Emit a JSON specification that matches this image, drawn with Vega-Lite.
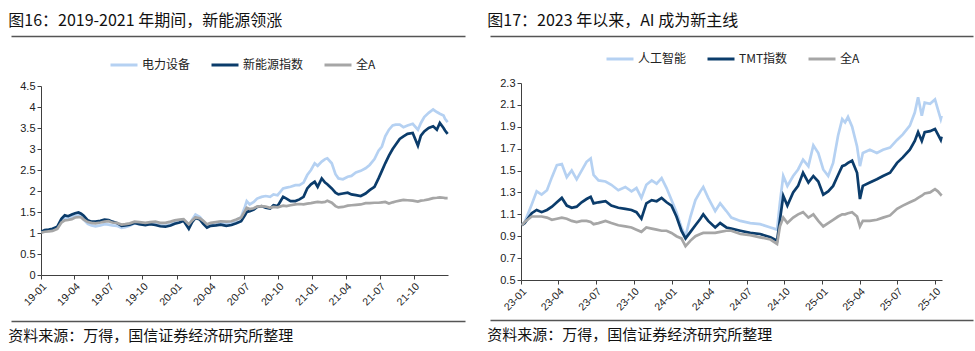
{
  "$schema": "https://vega.github.io/schema/vega-lite/v6.json",
  "padding": {"left": 8, "top": 12, "right": 0, "bottom": 0},
  "background": "white",
  "config": {
    "font": "Noto Sans CJK SC",
    "view": {"stroke": null},
    "axis": {"labelFont": "Liberation Sans", "labelFontSize": 11, "labelColor": "#222222", "domainColor": "#404040", "tickColor": "#404040", "tickSize": 4, "grid": false, "title": null},
    "legend": {"labelFont": "Noto Sans CJK SC", "labelFontSize": 12, "labelColor": "#222222"}
  },
  "datasets": {
    "left": [
      {"d":"2019-01-02","电力设备":1.02,"新能源指数":1.03,"全A":1.01},
      {"d":"2019-01-11","电力设备":1.05,"新能源指数":1.07,"全A":1.03},
      {"d":"2019-01-22","电力设备":1.06,"新能源指数":1.08,"全A":1.04},
      {"d":"2019-02-01","电力设备":1.08,"新能源指数":1.10,"全A":1.05},
      {"d":"2019-02-14","电力设备":1.14,"新能源指数":1.15,"全A":1.10},
      {"d":"2019-02-25","电力设备":1.30,"新能源指数":1.34,"全A":1.25},
      {"d":"2019-03-06","电力设备":1.36,"新能源指数":1.42,"全A":1.30},
      {"d":"2019-03-15","电力设备":1.34,"新能源指数":1.40,"全A":1.31},
      {"d":"2019-03-25","电力设备":1.38,"新能源指数":1.44,"全A":1.33},
      {"d":"2019-04-03","电力设备":1.41,"新能源指数":1.47,"全A":1.37},
      {"d":"2019-04-12","电力设备":1.42,"新能源指数":1.49,"全A":1.38},
      {"d":"2019-04-19","电力设备":1.40,"新能源指数":1.46,"全A":1.37},
      {"d":"2019-04-26","电力设备":1.32,"新能源指数":1.41,"全A":1.32},
      {"d":"2019-05-07","电力设备":1.22,"新能源指数":1.30,"全A":1.26},
      {"d":"2019-05-17","电力设备":1.18,"新能源指数":1.27,"全A":1.24},
      {"d":"2019-05-28","电力设备":1.16,"新能源指数":1.27,"全A":1.23},
      {"d":"2019-06-10","电力设备":1.18,"新能源指数":1.29,"全A":1.25},
      {"d":"2019-06-21","电力设备":1.21,"新能源指数":1.32,"全A":1.27},
      {"d":"2019-07-02","电力设备":1.20,"新能源指数":1.31,"全A":1.28},
      {"d":"2019-07-12","电力设备":1.18,"新能源指数":1.27,"全A":1.25},
      {"d":"2019-07-24","电力设备":1.17,"新能源指数":1.24,"全A":1.24},
      {"d":"2019-08-06","电力设备":1.12,"新能源指数":1.17,"全A":1.20},
      {"d":"2019-08-16","电力设备":1.14,"新能源指数":1.18,"全A":1.21},
      {"d":"2019-08-28","电力设备":1.17,"新能源指数":1.20,"全A":1.23},
      {"d":"2019-09-10","电力设备":1.23,"新能源指数":1.24,"全A":1.27},
      {"d":"2019-09-23","电力设备":1.21,"新能源指数":1.21,"全A":1.26},
      {"d":"2019-10-09","电力设备":1.20,"新能源指数":1.19,"全A":1.24},
      {"d":"2019-10-22","电力设备":1.22,"新能源指数":1.21,"全A":1.26},
      {"d":"2019-11-05","电力设备":1.22,"新能源指数":1.19,"全A":1.27},
      {"d":"2019-11-18","电力设备":1.18,"新能源指数":1.16,"全A":1.24},
      {"d":"2019-12-02","电力设备":1.17,"新能源指数":1.15,"全A":1.24},
      {"d":"2019-12-16","电力设备":1.21,"新能源指数":1.18,"全A":1.27},
      {"d":"2019-12-27","电力设备":1.25,"新能源指数":1.22,"全A":1.30},
      {"d":"2020-01-09","电力设备":1.28,"新能源指数":1.25,"全A":1.32},
      {"d":"2020-01-20","电力设备":1.31,"新能源指数":1.29,"全A":1.33},
      {"d":"2020-02-03","电力设备":1.14,"新能源指数":1.10,"全A":1.21},
      {"d":"2020-02-12","电力设备":1.32,"新能源指数":1.26,"全A":1.30},
      {"d":"2020-02-21","电力设备":1.44,"新能源指数":1.36,"全A":1.37},
      {"d":"2020-03-04","电力设备":1.38,"新能源指数":1.32,"全A":1.35},
      {"d":"2020-03-13","电力设备":1.28,"新能源指数":1.22,"全A":1.29},
      {"d":"2020-03-23","电力设备":1.17,"新能源指数":1.13,"全A":1.21},
      {"d":"2020-04-02","电力设备":1.21,"新能源指数":1.17,"全A":1.24},
      {"d":"2020-04-16","电力设备":1.23,"新能源指数":1.18,"全A":1.26},
      {"d":"2020-04-29","电力设备":1.25,"新能源指数":1.20,"全A":1.28},
      {"d":"2020-05-14","电力设备":1.23,"新能源指数":1.17,"全A":1.27},
      {"d":"2020-05-28","电力设备":1.25,"新能源指数":1.19,"全A":1.28},
      {"d":"2020-06-10","电力设备":1.31,"新能源指数":1.23,"全A":1.32},
      {"d":"2020-06-23","电力设备":1.38,"新能源指数":1.28,"全A":1.37},
      {"d":"2020-07-03","电力设备":1.62,"新能源指数":1.42,"全A":1.52},
      {"d":"2020-07-08","电力设备":1.76,"新能源指数":1.50,"全A":1.60},
      {"d":"2020-07-16","电力设备":1.68,"新能源指数":1.52,"全A":1.57},
      {"d":"2020-07-27","电力设备":1.74,"新能源指数":1.56,"全A":1.59},
      {"d":"2020-08-05","电力设备":1.82,"新能源指数":1.62,"全A":1.63},
      {"d":"2020-08-17","电力设备":1.86,"新能源指数":1.64,"全A":1.64},
      {"d":"2020-08-28","电力设备":1.88,"新能源指数":1.60,"全A":1.63},
      {"d":"2020-09-09","电力设备":1.86,"新能源指数":1.58,"全A":1.60},
      {"d":"2020-09-18","电力设备":1.92,"新能源指数":1.66,"全A":1.62},
      {"d":"2020-09-29","电力设备":1.90,"新能源指数":1.64,"全A":1.61},
      {"d":"2020-10-14","电力设备":2.06,"新能源指数":1.86,"全A":1.65},
      {"d":"2020-10-23","电力设备":2.08,"新能源指数":1.82,"全A":1.64},
      {"d":"2020-11-03","电力设备":2.10,"新能源指数":1.76,"全A":1.66},
      {"d":"2020-11-16","电力设备":2.14,"新能源指数":1.76,"全A":1.68},
      {"d":"2020-11-27","电力设备":2.14,"新能源指数":1.80,"全A":1.69},
      {"d":"2020-12-08","电力设备":2.20,"新能源指数":1.86,"全A":1.68},
      {"d":"2020-12-18","电力设备":2.38,"新能源指数":2.06,"全A":1.70},
      {"d":"2020-12-28","电力设备":2.50,"新能源指数":2.16,"全A":1.71},
      {"d":"2021-01-07","电力设备":2.66,"新能源指数":2.22,"全A":1.73},
      {"d":"2021-01-15","电力设备":2.60,"新能源指数":2.10,"全A":1.74},
      {"d":"2021-01-26","电力设备":2.70,"新能源指数":2.30,"全A":1.73},
      {"d":"2021-02-04","电力设备":2.76,"新能源指数":2.20,"全A":1.74},
      {"d":"2021-02-10","电力设备":2.78,"新能源指数":2.16,"全A":1.77},
      {"d":"2021-02-22","电力设备":2.66,"新能源指数":2.06,"全A":1.72},
      {"d":"2021-03-04","电力设备":2.40,"新能源指数":1.96,"全A":1.64},
      {"d":"2021-03-12","电力设备":2.30,"新能源指数":1.92,"全A":1.61},
      {"d":"2021-03-24","电力设备":2.28,"新能源指数":1.94,"全A":1.62},
      {"d":"2021-04-06","电力设备":2.34,"新能源指数":1.96,"全A":1.65},
      {"d":"2021-04-16","电力设备":2.36,"新能源指数":1.92,"全A":1.66},
      {"d":"2021-04-28","电力设备":2.44,"新能源指数":1.90,"全A":1.67},
      {"d":"2021-05-11","电力设备":2.48,"新能源指数":1.88,"全A":1.68},
      {"d":"2021-05-24","电力设备":2.54,"新能源指数":1.94,"全A":1.71},
      {"d":"2021-06-04","电力设备":2.62,"新能源指数":2.02,"全A":1.71},
      {"d":"2021-06-17","电力设备":2.76,"新能源指数":2.10,"全A":1.72},
      {"d":"2021-06-28","电力设备":2.96,"新能源指数":2.30,"全A":1.72},
      {"d":"2021-07-07","电力设备":3.06,"新能源指数":2.48,"全A":1.73},
      {"d":"2021-07-16","电力设备":3.30,"新能源指数":2.66,"全A":1.74},
      {"d":"2021-07-26","电力设备":3.46,"新能源指数":2.84,"全A":1.70},
      {"d":"2021-08-05","电力设备":3.56,"新能源指数":3.00,"全A":1.73},
      {"d":"2021-08-13","电力设备":3.58,"新能源指数":3.10,"全A":1.75},
      {"d":"2021-08-24","电力设备":3.58,"新能源指数":3.24,"全A":1.77},
      {"d":"2021-09-03","电力设备":3.52,"新能源指数":3.30,"全A":1.79},
      {"d":"2021-09-14","电力设备":3.56,"新能源指数":3.36,"全A":1.78},
      {"d":"2021-09-28","电力设备":3.60,"新能源指数":3.38,"全A":1.77},
      {"d":"2021-10-12","电力设备":3.46,"新能源指数":3.08,"全A":1.75},
      {"d":"2021-10-20","电力设备":3.62,"新能源指数":3.32,"全A":1.77},
      {"d":"2021-10-29","电力设备":3.76,"新能源指数":3.42,"全A":1.78},
      {"d":"2021-11-10","电力设备":3.86,"新能源指数":3.50,"全A":1.80},
      {"d":"2021-11-22","电力设备":3.94,"新能源指数":3.54,"全A":1.83},
      {"d":"2021-12-02","电力设备":3.88,"新能源指数":3.46,"全A":1.84},
      {"d":"2021-12-10","电力设备":3.84,"新能源指数":3.62,"全A":1.85},
      {"d":"2021-12-20","电力设备":3.80,"新能源指数":3.50,"全A":1.84},
      {"d":"2021-12-24","电力设备":3.72,"新能源指数":3.44,"全A":1.83},
      {"d":"2021-12-31","电力设备":3.64,"新能源指数":3.36,"全A":1.83}
    ],
    "right": [
      {"d":"2023-01-03","人工智能":1.00,"TMT指数":1.00,"全A":1.00},
      {"d":"2023-01-10","人工智能":1.03,"TMT指数":1.02,"全A":1.03},
      {"d":"2023-01-27","人工智能":1.19,"TMT指数":1.11,"全A":1.08},
      {"d":"2023-02-08","人工智能":1.31,"TMT指数":1.14,"全A":1.08},
      {"d":"2023-02-20","人工智能":1.28,"TMT指数":1.12,"全A":1.08},
      {"d":"2023-03-05","人工智能":1.32,"TMT指数":1.14,"全A":1.07},
      {"d":"2023-03-17","人工智能":1.44,"TMT指数":1.17,"全A":1.05},
      {"d":"2023-03-29","人工智能":1.55,"TMT指数":1.21,"全A":1.06},
      {"d":"2023-04-10","人工智能":1.56,"TMT指数":1.25,"全A":1.07},
      {"d":"2023-04-22","人工智能":1.44,"TMT指数":1.18,"全A":1.06},
      {"d":"2023-05-04","人工智能":1.50,"TMT指数":1.16,"全A":1.04},
      {"d":"2023-05-16","人工智能":1.42,"TMT指数":1.17,"全A":1.03},
      {"d":"2023-05-28","人工智能":1.50,"TMT指数":1.21,"全A":1.04},
      {"d":"2023-06-09","人工智能":1.58,"TMT指数":1.24,"全A":1.04},
      {"d":"2023-06-19","人工智能":1.61,"TMT指数":1.26,"全A":1.03},
      {"d":"2023-06-26","人工智能":1.46,"TMT指数":1.20,"全A":1.01},
      {"d":"2023-07-08","人工智能":1.41,"TMT指数":1.21,"全A":1.02},
      {"d":"2023-07-25","人工智能":1.40,"TMT指数":1.22,"全A":1.04},
      {"d":"2023-08-08","人工智能":1.37,"TMT指数":1.18,"全A":1.02},
      {"d":"2023-08-25","人工智能":1.32,"TMT指数":1.16,"全A":1.00},
      {"d":"2023-09-11","人工智能":1.35,"TMT指数":1.15,"全A":0.99},
      {"d":"2023-09-26","人工智能":1.31,"TMT指数":1.14,"全A":0.98},
      {"d":"2023-10-08","人工智能":1.34,"TMT指数":1.12,"全A":0.96},
      {"d":"2023-10-20","人工智能":1.25,"TMT指数":1.06,"全A":0.94},
      {"d":"2023-11-01","人工智能":1.37,"TMT指数":1.20,"全A":0.98},
      {"d":"2023-11-14","人工智能":1.41,"TMT指数":1.23,"全A":0.97},
      {"d":"2023-11-26","人工智能":1.38,"TMT指数":1.22,"全A":0.96},
      {"d":"2023-12-08","人工智能":1.43,"TMT指数":1.25,"全A":0.95},
      {"d":"2023-12-20","人工智能":1.34,"TMT指数":1.21,"全A":0.95},
      {"d":"2024-01-01","人工智能":1.23,"TMT指数":1.18,"全A":0.93},
      {"d":"2024-01-13","人工智能":1.12,"TMT指数":1.08,"全A":0.90},
      {"d":"2024-01-25","人工智能":0.98,"TMT指数":0.95,"全A":0.88},
      {"d":"2024-02-04","人工智能":0.90,"TMT指数":0.88,"全A":0.81},
      {"d":"2024-02-16","人工智能":1.08,"TMT指数":0.94,"全A":0.86},
      {"d":"2024-02-28","人工智能":1.23,"TMT指数":1.00,"全A":0.90},
      {"d":"2024-03-11","人工智能":1.31,"TMT指数":1.06,"全A":0.92},
      {"d":"2024-03-18","人工智能":1.35,"TMT指数":1.10,"全A":0.93},
      {"d":"2024-03-30","人工智能":1.25,"TMT指数":1.04,"全A":0.93},
      {"d":"2024-04-16","人工智能":1.13,"TMT指数":0.98,"全A":0.93},
      {"d":"2024-04-28","人工智能":1.20,"TMT指数":1.02,"全A":0.94},
      {"d":"2024-05-13","人工智能":1.13,"TMT指数":0.98,"全A":0.95},
      {"d":"2024-05-25","人工智能":1.07,"TMT指数":0.97,"全A":0.95},
      {"d":"2024-06-16","人工智能":1.04,"TMT指数":0.95,"全A":0.92},
      {"d":"2024-07-10","人工智能":1.02,"TMT指数":0.93,"全A":0.91},
      {"d":"2024-08-03","人工智能":1.01,"TMT指数":0.92,"全A":0.89},
      {"d":"2024-08-28","人工智能":0.98,"TMT指数":0.89,"全A":0.87},
      {"d":"2024-09-13","人工智能":0.96,"TMT指数":0.86,"全A":0.83},
      {"d":"2024-09-20","人工智能":1.21,"TMT指数":1.05,"全A":0.99},
      {"d":"2024-09-28","人工智能":1.45,"TMT指数":1.27,"全A":1.07},
      {"d":"2024-10-08","人工智能":1.36,"TMT指数":1.18,"全A":1.02},
      {"d":"2024-10-22","人工智能":1.45,"TMT指数":1.30,"全A":1.07},
      {"d":"2024-11-03","人工智能":1.51,"TMT指数":1.36,"全A":1.10},
      {"d":"2024-11-15","人工智能":1.60,"TMT指数":1.48,"全A":1.12},
      {"d":"2024-11-28","人工智能":1.54,"TMT指数":1.39,"全A":1.07},
      {"d":"2024-12-10","人工智能":1.73,"TMT指数":1.45,"全A":1.10},
      {"d":"2024-12-22","人工智能":1.66,"TMT指数":1.40,"全A":1.04},
      {"d":"2025-01-03","人工智能":1.51,"TMT指数":1.28,"全A":0.99},
      {"d":"2025-01-15","人工智能":1.45,"TMT指数":1.31,"全A":1.02},
      {"d":"2025-01-27","人工智能":1.57,"TMT指数":1.36,"全A":1.05},
      {"d":"2025-02-08","人工智能":1.82,"TMT指数":1.46,"全A":1.08},
      {"d":"2025-02-18","人工智能":1.97,"TMT指数":1.54,"全A":1.10},
      {"d":"2025-02-25","人工智能":1.94,"TMT指数":1.55,"全A":1.10},
      {"d":"2025-03-04","人工智能":1.99,"TMT指数":1.57,"全A":1.11},
      {"d":"2025-03-14","人工智能":1.90,"TMT指数":1.59,"全A":1.12},
      {"d":"2025-03-26","人工智能":1.72,"TMT指数":1.48,"全A":1.08},
      {"d":"2025-04-02","人工智能":1.54,"TMT指数":1.24,"全A":0.99},
      {"d":"2025-04-09","人工智能":1.66,"TMT指数":1.36,"全A":1.04},
      {"d":"2025-04-26","人工智能":1.69,"TMT指数":1.39,"全A":1.04},
      {"d":"2025-05-13","人工智能":1.66,"TMT指数":1.42,"全A":1.05},
      {"d":"2025-05-28","人工智能":1.69,"TMT指数":1.45,"全A":1.07},
      {"d":"2025-06-14","人工智能":1.71,"TMT指数":1.48,"全A":1.09},
      {"d":"2025-07-01","人工智能":1.78,"TMT指数":1.57,"全A":1.15},
      {"d":"2025-07-15","人工智能":1.83,"TMT指数":1.62,"全A":1.18},
      {"d":"2025-08-01","人工智能":1.91,"TMT指数":1.69,"全A":1.21},
      {"d":"2025-08-13","人工智能":2.03,"TMT指数":1.77,"全A":1.23},
      {"d":"2025-08-21","人工智能":2.17,"TMT指数":1.85,"全A":1.25},
      {"d":"2025-08-30","人工智能":2.00,"TMT指数":1.77,"全A":1.27},
      {"d":"2025-09-06","人工智能":2.12,"TMT指数":1.85,"全A":1.29},
      {"d":"2025-09-19","人工智能":2.11,"TMT指数":1.86,"全A":1.30},
      {"d":"2025-10-01","人工智能":2.15,"TMT指数":1.88,"全A":1.33},
      {"d":"2025-10-08","人工智能":2.06,"TMT指数":1.83,"全A":1.31},
      {"d":"2025-10-15","人工智能":1.97,"TMT指数":1.78,"全A":1.28},
      {"d":"2025-10-17","人工智能":2.00,"TMT指数":1.81,"全A":1.29}
    ]
  },
  "spacing": -8,
  "resolve": {"scale": {"color": "independent"}, "legend": {"color": "independent"}},
  "hconcat": [
    {
      "spacing": 10,
      "resolve": {"scale": {"color": "independent"}, "legend": {"color": "independent"}},
      "vconcat": [
        {
          "width": 424, "height": 1,
          "title": {"text": "图16：2019-2021 年期间，新能源领涨", "anchor": "start", "fontSize": 16, "fontWeight": "normal", "color": "#111111", "offset": 5},
          "data": {"values": [{}]},
          "mark": {"type": "point", "opacity": 0},
          "encoding": {
            "x": {"datum": 0, "type": "quantitative", "scale": {"domain": [0, 1], "range": [-30, 424]},
                  "axis": {"orient": "top", "ticks": false, "labels": false, "domainColor": "#555555", "domainWidth": 1.3}}
          }
        },
        {
          "width": 407, "height": 189,
          "data": {"name": "left"},
          "transform": [{"fold": ["电力设备", "新能源指数", "全A"], "as": ["series", "value"]}],
          "mark": {"type": "line", "strokeWidth": 2.7},
          "encoding": {
            "x": {"field": "d", "type": "temporal",
                  "scale": {"type": "utc", "domain": [{"year": 2019, "month": 1, "date": 1, "utc": true}, {"year": 2022, "month": 1, "date": 1, "utc": true}]},
                  "axis": {"format": "%y-%m", "labelAngle": -45, "labelFontSize": 10.5, "values": [
                    {"year": 2019, "month": 1, "date": 1, "utc": true}, {"year": 2019, "month": 4, "date": 1, "utc": true},
                    {"year": 2019, "month": 7, "date": 1, "utc": true}, {"year": 2019, "month": 10, "date": 1, "utc": true},
                    {"year": 2020, "month": 1, "date": 1, "utc": true}, {"year": 2020, "month": 4, "date": 1, "utc": true},
                    {"year": 2020, "month": 7, "date": 1, "utc": true}, {"year": 2020, "month": 10, "date": 1, "utc": true},
                    {"year": 2021, "month": 1, "date": 1, "utc": true}, {"year": 2021, "month": 4, "date": 1, "utc": true},
                    {"year": 2021, "month": 7, "date": 1, "utc": true}, {"year": 2021, "month": 10, "date": 1, "utc": true}]}},
            "y": {"field": "value", "type": "quantitative",
                  "scale": {"domain": [0, 4.5], "nice": false, "zero": false},
                  "axis": {"values": [0, 0.5, 1, 1.5, 2, 2.5, 3, 3.5, 4, 4.5], "format": "~g"}},
            "color": {"field": "series", "type": "nominal",
                      "scale": {"domain": ["电力设备", "新能源指数", "全A"], "range": ["#b5d1f2", "#0b3c6b", "#a6a6a6"]},
                      "legend": {"orient": "none", "legendX": 68, "legendY": -36, "direction": "horizontal", "title": null,
                                 "symbolType": "stroke", "symbolSize": 729, "symbolStrokeWidth": 3, "columnPadding": 14, "labelOffset": 3}}
          }
        },
        {
          "width": 424, "height": 1,
          "title": {"text": "资料来源：万得，国信证券经济研究所整理", "orient": "bottom", "anchor": "start", "fontSize": 15, "fontWeight": "normal", "color": "#111111", "offset": 5},
          "data": {"values": [{}]},
          "mark": {"type": "point", "opacity": 0},
          "encoding": {
            "x": {"datum": 0, "type": "quantitative", "scale": {"domain": [0, 1], "range": [-30, 424]},
                  "axis": {"orient": "top", "ticks": false, "labels": false, "domainColor": "#555555", "domainWidth": 1.3}}
          }
        }
      ]
    },
    {
      "spacing": 4,
      "resolve": {"scale": {"color": "independent"}, "legend": {"color": "independent"}},
      "vconcat": [
        {
          "width": 452, "height": 1,
          "title": {"text": "图17：2023 年以来，AI 成为新主线", "anchor": "start", "fontSize": 16, "fontWeight": "normal", "color": "#111111", "offset": 5},
          "data": {"values": [{}]},
          "mark": {"type": "point", "opacity": 0},
          "encoding": {
            "x": {"datum": 0, "type": "quantitative", "scale": {"domain": [0, 1], "range": [-31, 452]},
                  "axis": {"orient": "top", "ticks": false, "labels": false, "domainColor": "#555555", "domainWidth": 1.3}}
          }
        },
        {
          "width": 421, "height": 197,
          "data": {"name": "right"},
          "transform": [{"fold": ["人工智能", "TMT指数", "全A"], "as": ["series", "value"]}],
          "mark": {"type": "line", "strokeWidth": 2.7},
          "encoding": {
            "x": {"field": "d", "type": "temporal",
                  "scale": {"type": "utc", "domain": [{"year": 2023, "month": 1, "date": 1, "utc": true}, {"year": 2025, "month": 10, "date": 18, "utc": true}]},
                  "axis": {"format": "%y-%m", "labelAngle": -45, "labelFontSize": 10.5, "values": [
                    {"year": 2023, "month": 1, "date": 1, "utc": true}, {"year": 2023, "month": 4, "date": 1, "utc": true},
                    {"year": 2023, "month": 7, "date": 1, "utc": true}, {"year": 2023, "month": 10, "date": 1, "utc": true},
                    {"year": 2024, "month": 1, "date": 1, "utc": true}, {"year": 2024, "month": 4, "date": 1, "utc": true},
                    {"year": 2024, "month": 7, "date": 1, "utc": true}, {"year": 2024, "month": 10, "date": 1, "utc": true},
                    {"year": 2025, "month": 1, "date": 1, "utc": true}, {"year": 2025, "month": 4, "date": 1, "utc": true},
                    {"year": 2025, "month": 7, "date": 1, "utc": true}, {"year": 2025, "month": 10, "date": 1, "utc": true}]}},
            "y": {"field": "value", "type": "quantitative",
                  "scale": {"domain": [0.5, 2.3], "nice": false, "zero": false},
                  "axis": {"values": [0.5, 0.7, 0.9, 1.1, 1.3, 1.5, 1.7, 1.9, 2.1, 2.3], "format": "~g"}},
            "color": {"field": "series", "type": "nominal",
                      "scale": {"domain": ["人工智能", "TMT指数", "全A"], "range": ["#b5d1f2", "#0b3c6b", "#a6a6a6"]},
                      "legend": {"orient": "none", "legendX": 84, "legendY": -39, "direction": "horizontal", "title": null,
                                 "symbolType": "stroke", "symbolSize": 729, "symbolStrokeWidth": 3, "columnPadding": 14, "labelOffset": 3}}
          }
        },
        {
          "width": 452, "height": 1,
          "title": {"text": "资料来源：万得，国信证券经济研究所整理", "orient": "bottom", "anchor": "start", "fontSize": 15, "fontWeight": "normal", "color": "#111111", "offset": 5},
          "data": {"values": [{}]},
          "mark": {"type": "point", "opacity": 0},
          "encoding": {
            "x": {"datum": 0, "type": "quantitative", "scale": {"domain": [0, 1], "range": [-31, 452]},
                  "axis": {"orient": "top", "ticks": false, "labels": false, "domainColor": "#555555", "domainWidth": 1.3}}
          }
        }
      ]
    }
  ]
}
